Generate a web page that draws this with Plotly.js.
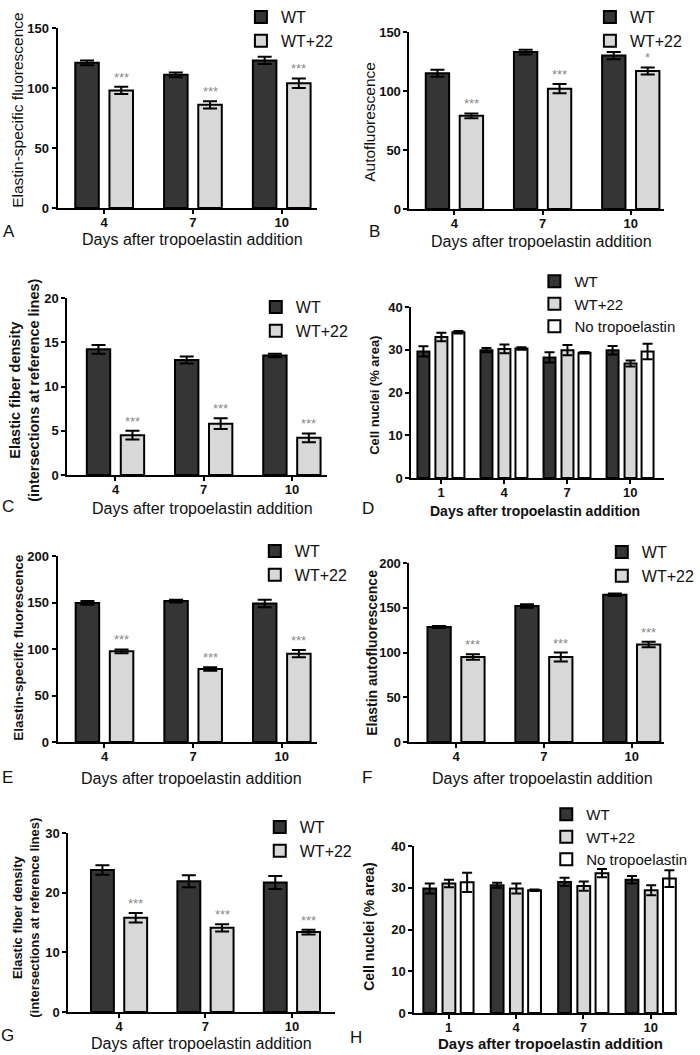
<!DOCTYPE html>
<html>
<head>
<meta charset="utf-8">
<script src="https://cdn.plot.ly/plotly-3.0.1.min.js"></script>
<style>html,body{margin:0;padding:0;background:#fff;}#chart{width:700px;height:1055px;}</style>
</head>
<body>
<div id="chart"></div>
<script>
// ---------- data ----------
const days3 = ['4', '7', '10'];
const days4 = ['1', '4', '7', '10'];
const seriesNames2 = ['WT', 'WT+22'];
const seriesNames3 = ['WT', 'WT+22', 'No tropoelastin'];
const xTitle = 'Days after tropoelastin addition';
const panelLetters = ['A', 'B', 'C', 'D', 'E', 'F', 'G', 'H'];
const yTitles = [
  'Elastin-specific fluorescence',
  'Autofluorescence',
  'Elastic fiber density<br>(intersections at reference lines)',
  'Cell nuclei (% area)',
  'Elastin-specific fluorescence',
  'Elastin autofluorescence',
  'Elastic fiber density<br>(intersections at reference lines)',
  'Cell nuclei (% area)'
];

// Panel A: Elastin-specific fluorescence
const A_wt = [121, 111, 123];
const A_wtErr = [2, 2, 3];
const A_22 = [98, 86, 104];
const A_22Err = [3, 3, 4];
const A_sig = ['***', '***', '***'];

// Panel B: Autofluorescence
const B_wt = [115, 133, 130];
const B_wtErr = [3, 2, 3];
const B_22 = [79, 102, 117];
const B_22Err = [2, 4, 3];
const B_sig = ['***', '***', '*'];

// Panel C: Elastic fiber density
const C_wt = [14.2, 13.0, 13.5];
const C_wtErr = [0.5, 0.4, 0.2];
const C_22 = [4.5, 5.8, 4.2];
const C_22Err = [0.5, 0.6, 0.5];
const C_sig = ['***', '***', '***'];

// Panel D: Cell nuclei (% area)
const D_wt = [29.6, 29.9, 28.2, 29.9];
const D_wtErr = [1.2, 0.5, 1.2, 1.0];
const D_22 = [33.0, 30.2, 29.9, 26.8];
const D_22Err = [1.0, 1.0, 1.2, 0.7];
const D_noT = [34.1, 30.3, 29.3, 29.6];
const D_noTErr = [0.3, 0.3, 0.2, 1.8];

// Panel E: Elastin-specific fluorescence
const E_wt = [149.5, 151.5, 149];
const E_wtErr = [2, 1.5, 4];
const E_22 = [97.5, 78.5, 95];
const E_22Err = [2, 2, 4];
const E_sig = ['***', '***', '***'];

// Panel F: Elastin autofluorescence
const F_wt = [128.5, 152, 164.5];
const F_wtErr = [1, 2, 1.5];
const F_22 = [95, 95, 109];
const F_22Err = [3, 5, 3];
const F_sig = ['***', '***', '***'];

// Panel G: Elastic fiber density
const G_wt = [23.8, 21.9, 21.7];
const G_wtErr = [0.8, 1.0, 1.1];
const G_22 = [15.8, 14.1, 13.4];
const G_22Err = [0.8, 0.6, 0.4];
const G_sig = ['***', '***', '***'];

// Panel H: Cell nuclei (% area)
const H_wt = [29.8, 30.6, 31.4, 31.9];
const H_wtErr = [1.2, 0.6, 1.0, 0.9];
const H_22 = [31.0, 29.8, 30.4, 29.4];
const H_22Err = [0.9, 1.2, 1.1, 1.2];
const H_noT = [31.3, 29.4, 33.5, 32.2];
const H_noTErr = [2.3, 0.2, 1.0, 2.0];

// ---------- styling / layout ----------
const W = 700, H = 1055;
const FONT = 'Liberation Sans, Arial, Helvetica, sans-serif';
const fills = ['#353535', '#d8d8d8', '#ffffff'];

const panels = [
  {cats: days3, series: [[A_wt, A_wtErr], [A_22, A_22Err]], sig: A_sig,
   px: [58, 320], py: [28, 208], yr: [0, 150], dt: 50, xr: [-0.525, 2.4], leg: [243, 0]},
  {cats: days3, series: [[B_wt, B_wtErr], [B_22, B_22Err]], sig: B_sig,
   px: [413, 670], py: [32, 209], yr: [0, 150], dt: 50, xr: [-0.51, 2.38], leg: [595, 0]},
  {cats: days3, series: [[C_wt, C_wtErr], [C_22, C_22Err]], sig: C_sig,
   px: [68, 330], py: [298, 475], yr: [0, 20], dt: 5, xr: [-0.545, 2.4], leg: [258, 290]},
  {cats: days4, series: [[D_wt, D_wtErr], [D_22, D_22Err], [D_noT, D_noTErr]], sig: null,
   px: [415, 670], py: [307, 478], yr: [0, 40], dt: 10, xr: [-0.47, 3.54], leg: [539, 265]},
  {cats: days3, series: [[E_wt, E_wtErr], [E_22, E_22Err]], sig: E_sig,
   px: [58, 320], py: [556, 742], yr: [0, 200], dt: 50, xr: [-0.53, 2.4], leg: [257, 534]},
  {cats: days3, series: [[F_wt, F_wtErr], [F_22, F_22Err]], sig: F_sig,
   px: [413, 670], py: [563, 742], yr: [0, 200], dt: 50, xr: [-0.53, 2.37], leg: [607, 535]},
  {cats: days3, series: [[G_wt, G_wtErr], [G_22, G_22Err]], sig: G_sig,
   px: [69, 338], py: [833, 1012], yr: [0, 30], dt: 10, xr: [-0.586, 2.5], leg: [262, 810]},
  {cats: days4, series: [[H_wt, H_wtErr], [H_22, H_22Err], [H_noT, H_noTErr]], sig: null,
   px: [418, 683], py: [846, 1013], yr: [0, 40], dt: 10, xr: [-0.507, 3.39], leg: [551, 798]}
];
// text placement (pixel centres) and fonts
const labelPos = [[9, 231], [378, 231], [8, 507], [371, 508], [8, 777], [370, 777], [8, 1035], [359, 1037]];
const xTitlePos = [[194, 239], [546, 241], [204, 508], [540, 511], [193, 778], [547, 778], [203, 1043], [555, 1043]];
const xTitleFont = [[16, false], [16, false], [16, false], [14, true], [16, false], [16, false], [16, false], [15, true]];
const yTitlePos = [[18, 110], [373, 122], [24, 390], [377, 395], [18, 647], [375, 653], [26, 918], [372, 927]];
const yTitleFont = [[15.5, false], [15.5, false], [14.5, true], [13, true], [13.5, true], [14, true], [13, true], [14, true]];

const traces = [];
const annotations = [];
const layout = {
  width: W, height: H,
  margin: {l: 0, r: 0, t: 0, b: 0},
  paper_bgcolor: '#ffffff', plot_bgcolor: '#ffffff',
  barmode: 'overlay',
  showlegend: true,
  font: {family: FONT, color: '#111'},
  annotations: annotations
};

panels.forEach((p, i) => {
  const n = i + 1;
  const xa = n === 1 ? 'x' : 'x' + n;
  const ya = n === 1 ? 'y' : 'y' + n;
  const legName = n === 1 ? 'legend' : 'legend' + n;
  const k = p.series.length;
  const names = k === 2 ? seriesNames2 : seriesNames3;
  const barW = k === 2 ? 0.265 : 0.19;
  const offs = k === 2 ? [-0.325, 0.06] : [-0.375, -0.09, 0.18];

  p.series.forEach((s, j) => {
    traces.push({
      type: 'bar', name: names[j], x: p.cats, y: s[0],
      xaxis: xa, yaxis: ya, legend: legName,
      offset: offs[j], width: barW,
      marker: {color: fills[j], line: {color: '#000', width: 2}},
      error_y: {type: 'data', array: s[1], visible: true, color: '#000', thickness: 2, width: k === 2 ? 7 : 5},
      hoverinfo: 'skip'
    });
  });

  if (p.sig) {
    const vals = p.series[1][0], errs = p.series[1][1];
    p.sig.forEach((txt, c) => {
      annotations.push({
        xref: xa, yref: ya, x: c + offs[1] + barW / 2, y: vals[c] + errs[c],
        text: txt, showarrow: false, yanchor: 'bottom', yshift: 0,
        font: {family: FONT, size: 13, color: '#8a8a8a'}
      });
    });
  }

  const axKeyX = n === 1 ? 'xaxis' : 'xaxis' + n;
  const axKeyY = n === 1 ? 'yaxis' : 'yaxis' + n;
  layout[axKeyX] = {
    domain: [p.px[0] / W, p.px[1] / W], anchor: ya,
    type: 'category', range: p.xr, fixedrange: true,
    showline: true, linecolor: '#000', linewidth: 2,
    ticks: 'outside', ticklen: 4, tickwidth: 2, tickcolor: '#000',
    ticklabelstandoff: -3,
    showgrid: false, zeroline: false,
    tickfont: {family: FONT, size: 13, color: '#111', weight: 'bold'}
  };
  layout[axKeyY] = {
    domain: [1 - p.py[1] / H, 1 - p.py[0] / H], anchor: xa,
    range: p.yr, dtick: p.dt, tick0: 0, fixedrange: true,
    showline: true, linecolor: '#000', linewidth: 2,
    ticks: 'outside', ticklen: 4, tickwidth: 2, tickcolor: '#000',
    showgrid: false, zeroline: false,
    tickfont: {family: FONT, size: 13, color: '#111', weight: 'bold'}
  };
  layout[legName] = {
    x: p.leg[0] / W, y: 1 - p.leg[1] / H, xanchor: 'left', yanchor: 'top',
    xref: 'paper', yref: 'paper',
    bgcolor: 'rgba(0,0,0,0)', borderwidth: 0,
    font: {family: FONT, size: k === 2 ? 16 : 15, color: '#111'},
    tracegroupgap: 0
  };

  // axis titles
  annotations.push({
    xref: 'paper', yref: 'paper', x: xTitlePos[i][0] / W, y: 1 - xTitlePos[i][1] / H,
    xanchor: 'center', yanchor: 'middle', showarrow: false, text: xTitle,
    font: {family: FONT, size: xTitleFont[i][0], color: '#111', weight: xTitleFont[i][1] ? 'bold' : 'normal'}
  });
  annotations.push({
    xref: 'paper', yref: 'paper', x: yTitlePos[i][0] / W, y: 1 - yTitlePos[i][1] / H,
    xanchor: 'center', yanchor: 'middle', showarrow: false, textangle: -90, text: yTitles[i],
    font: {family: FONT, size: yTitleFont[i][0], color: '#111', weight: yTitleFont[i][1] ? 'bold' : 'normal'}
  });
  // panel letter
  annotations.push({
    xref: 'paper', yref: 'paper', x: labelPos[i][0] / W, y: 1 - labelPos[i][1] / H,
    xanchor: 'center', yanchor: 'middle', showarrow: false,
    text: panelLetters[i], font: {family: FONT, size: 17, color: '#111'}
  });
});

Plotly.newPlot('chart', traces, layout, {displayModeBar: false, staticPlot: true});
</script>
</body>
</html>
